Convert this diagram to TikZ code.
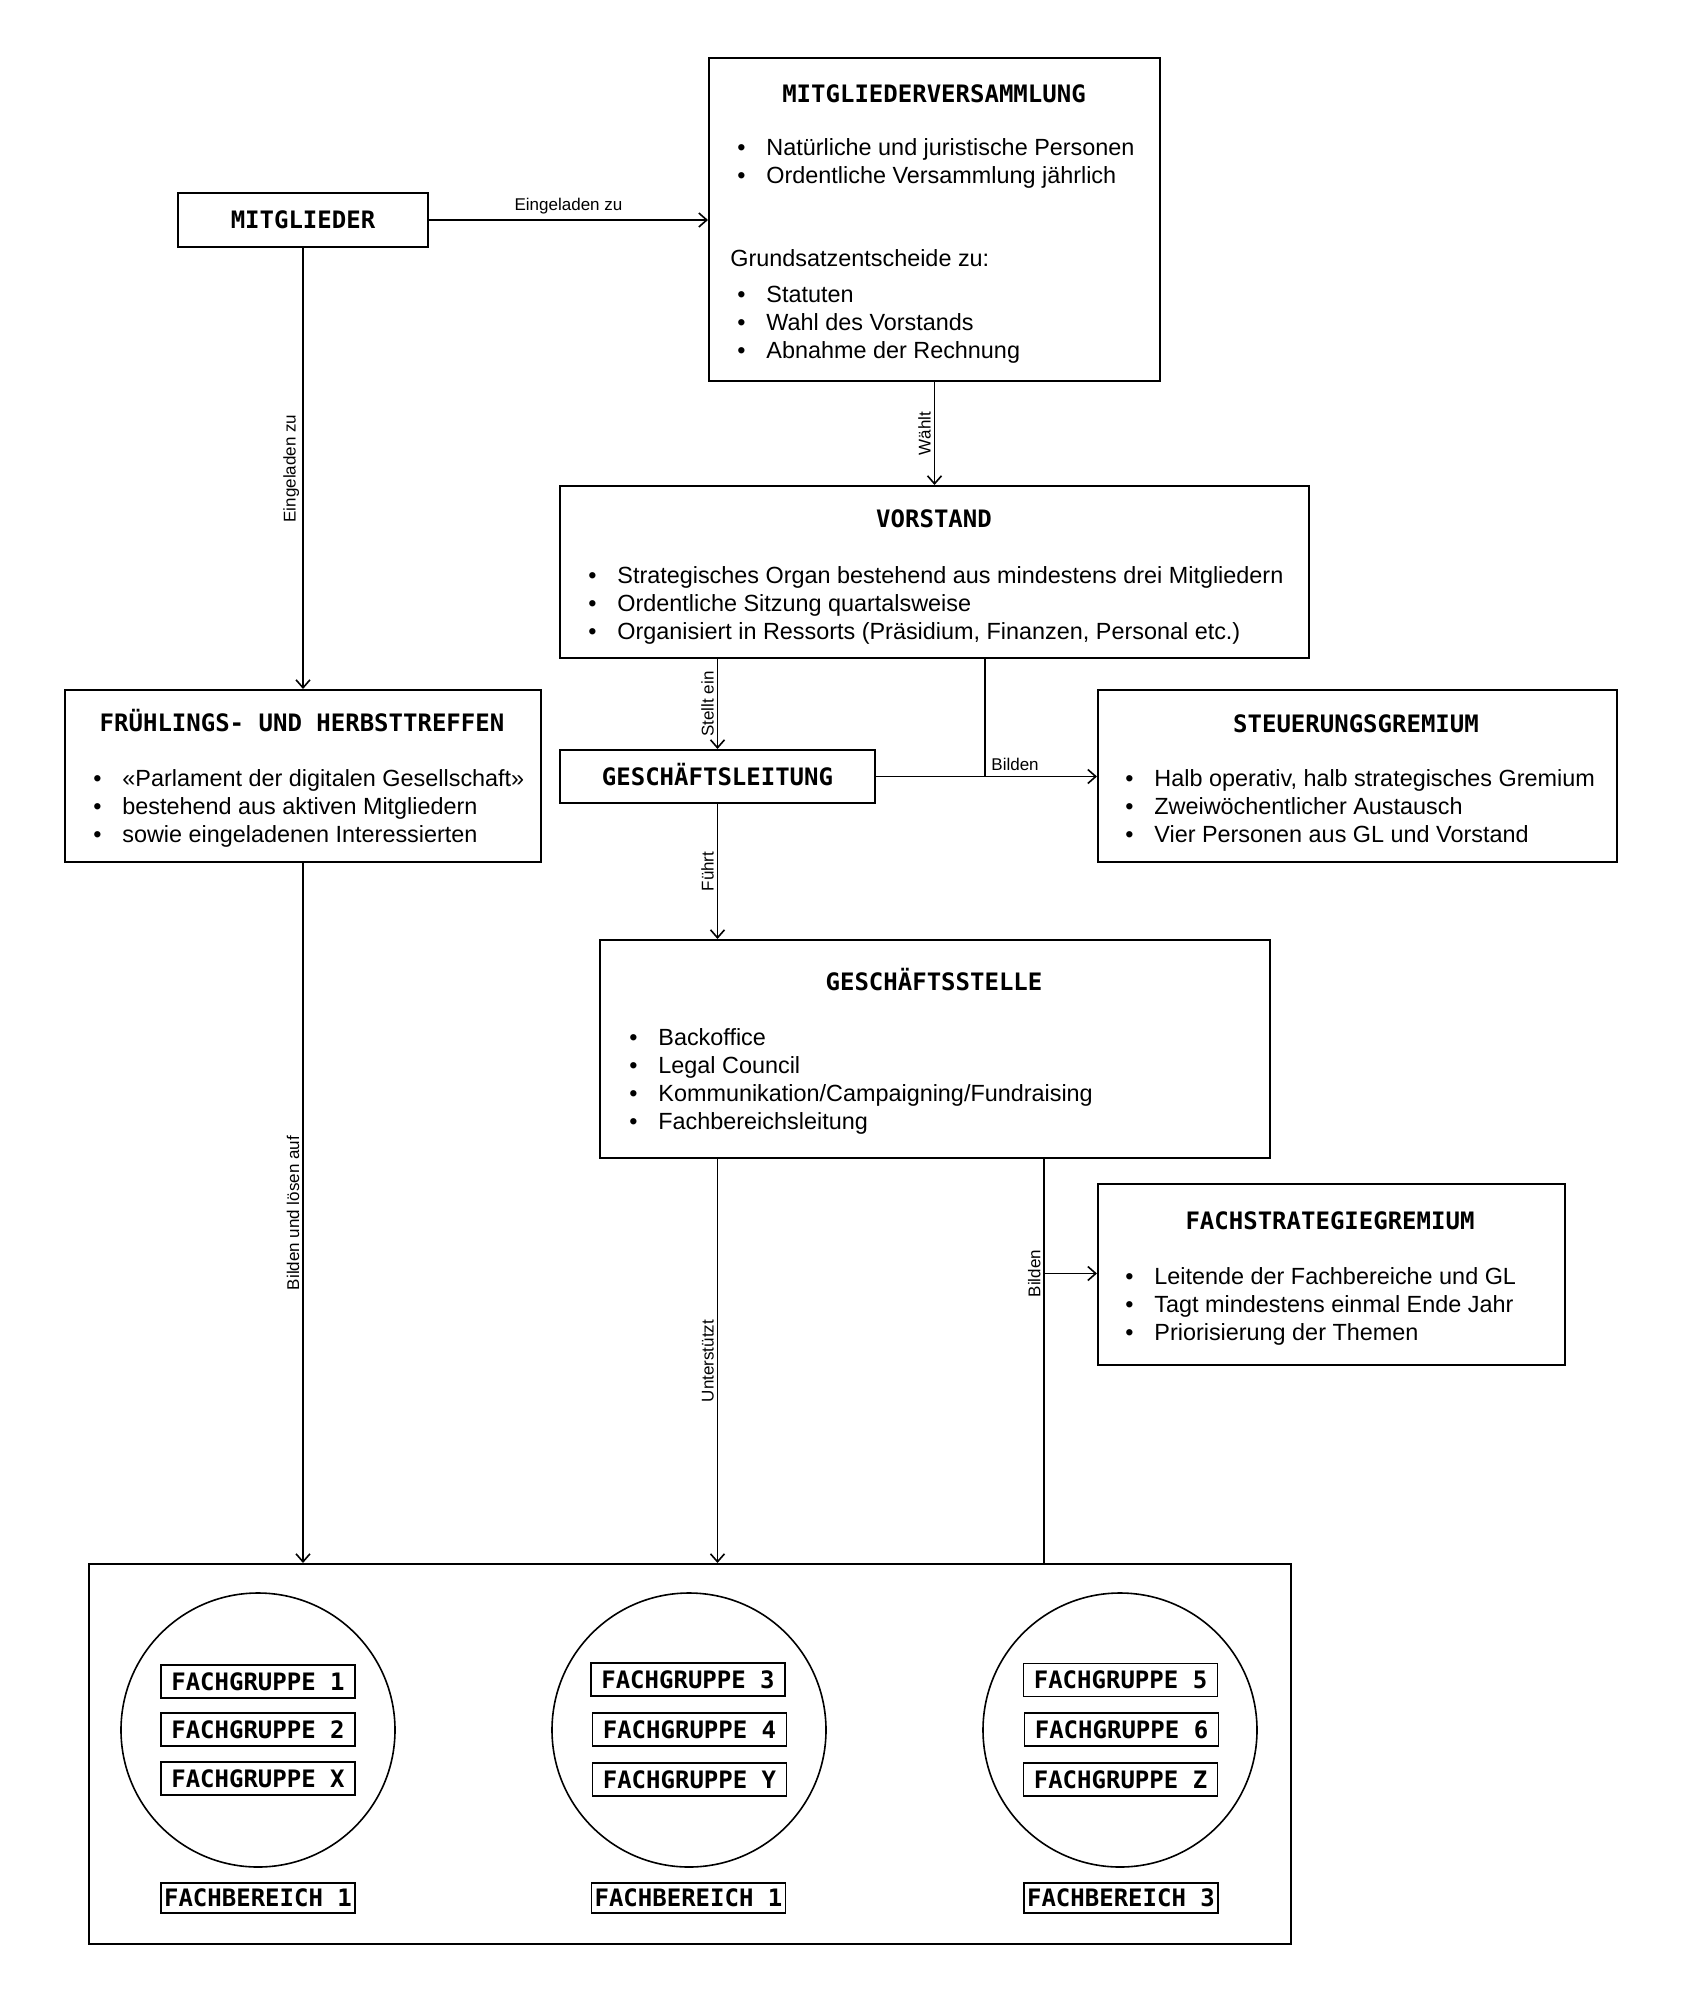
\documentclass[tikz,border=0pt]{standalone}
\usepackage{fontspec}
\setmainfont{Liberation Sans}
\newfontfamily\titlefont{DejaVu Sans Mono}
\usetikzlibrary{arrows.meta}
\newcommand\bl[1]{\makebox[14.5pt][l]{•}#1}
\newcommand\items[4]{%
  \foreach \t [count=\i from 0] in {#4} {%
    \node[body] (#1-\i) at (#2, {#3+8+28*\i}) {\bl{\t}};}}
\begin{document}
\begin{tikzpicture}[x=0.5pt,y=-0.5pt,
  obox/.style={draw, line width=1pt, anchor=north west, inner sep=0pt},
  ttl/.style={font=\titlefont\bfseries\fontsize{12pt}{14pt}\selectfont, inner sep=0pt, text height=8.8pt, text depth=0pt},
  body/.style={font=\fontsize{11.7pt}{14pt}\selectfont, inner sep=0pt, anchor=base west},
  lbl/.style={font=\fontsize{8.5pt}{10pt}\selectfont, inner sep=1.5pt},
  con/.style={line width=0.8pt},
  arr/.style={con, -{Straight Barb[length=4pt,width=7pt]}},
  fg/.style={draw, line width=0.9pt, minimum width=97pt, minimum height=16.5pt, inner sep=0pt,
    font=\titlefont\bfseries\fontsize{12pt}{14pt}\selectfont, text height=8.8pt, text depth=0pt},
  fb/.style={fg, minimum height=15pt},
  ring/.style={circle, draw, line width=0.8pt, minimum size=137pt, inner sep=0pt}
]
\useasboundingbox (0,0) rectangle (1680,2000);

% boxes
\node[obox, minimum width=125pt, minimum height=27pt] (mit) at (177,192) {};
\node[obox, minimum width=225.5pt, minimum height=161.5pt] (mv) at (708,57) {};
\node[obox, minimum width=374.5pt, minimum height=86pt] (vor) at (559,485) {};
\node[obox, minimum width=238pt, minimum height=86pt] (fht) at (64,689) {};
\node[obox, minimum width=157.5pt, minimum height=26.5pt] (gl) at (559,749) {};
\node[obox, minimum width=259.5pt, minimum height=86pt] (stg) at (1097,689) {};
\node[obox, minimum width=335pt, minimum height=109pt] (gs) at (599,939) {};
\node[obox, minimum width=233.5pt, minimum height=90.5pt] (fsg) at (1097,1183) {};
\node[obox, line width=1.2pt, minimum width=601pt, minimum height=190pt] (main) at (88,1563) {};

% titles
\node[ttl] (t-mit) at (mit.center) {MITGLIEDER};
\node[ttl] (t-mv) at (934,94) {MITGLIEDERVERSAMMLUNG};
\node[ttl] (t-vor) at (934,519) {VORSTAND};
\node[ttl] (t-fht) at (302,723) {FRÜHLINGS- UND HERBSTTREFFEN};
\node[ttl] (t-gl) at (gl.center) {GESCHÄFTSLEITUNG};
\node[ttl] (t-stg) at (1356,724) {STEUERUNGSGREMIUM};
\node[ttl] (t-gs) at (934,982) {GESCHÄFTSSTELLE};
\node[ttl] (t-fsg) at (1330,1221) {FACHSTRATEGIEGREMIUM};

% bullet texts
\items{mva}{737}{148}{{Natürliche und juristische Personen},{Ordentliche Versammlung jährlich}}
\node[body] (mvg) at (730,267) {Grundsatzentscheide zu:};
\items{mvb}{737}{295}{{Statuten},{Wahl des Vorstands},{Abnahme der Rechnung}}
\items{vo}{588}{575}{{Strategisches Organ bestehend aus mindestens drei Mitgliedern},{Ordentliche Sitzung quartalsweise},{Organisiert in Ressorts (Präsidium, Finanzen, Personal etc.)}}
\items{fh}{93}{778}{{«Parlament der digitalen Gesellschaft»},{bestehend aus aktiven Mitgliedern},{sowie eingeladenen Interessierten}}
\items{st}{1125}{778}{{Halb operativ, halb strategisches Gremium},{Zweiwöchentlicher Austausch},{Vier Personen aus GL und Vorstand}}
\items{gsi}{629}{1037}{{Backoffice},{Legal Council},{Kommunikation/Campaigning/Fundraising},{Fachbereichsleitung}}
\items{fs}{1125}{1276}{{Leitende der Fachbereiche und GL},{Tagt mindestens einmal Ende Jahr},{Priorisierung der Themen}}

% Fachbereiche
\node[ring] (c1) at (258,1730) {};
\node[ring] (c2) at (689,1730) {};
\node[ring] (c3) at (1120,1730) {};
\node[fg] (fg1) at (258,1681.5) {FACHGRUPPE 1};
\node[fg] (fg2) at (258,1729.5) {FACHGRUPPE 2};
\node[fg] (fgx) at (258,1778.5) {FACHGRUPPE X};
\node[fg] (fg3) at (688,1679.5) {FACHGRUPPE 3};
\node[fg] (fg4) at (689.5,1729.5) {FACHGRUPPE 4};
\node[fg] (fgy) at (689.5,1779.5) {FACHGRUPPE Y};
\node[fg] (fg5) at (1120.5,1680) {FACHGRUPPE 5};
\node[fg] (fg6) at (1121.5,1729.5) {FACHGRUPPE 6};
\node[fg] (fgz) at (1120.5,1779.5) {FACHGRUPPE Z};
\node[fb] (fb1) at (258,1898) {FACHBEREICH 1};
\node[fb] (fb2) at (688.5,1898) {FACHBEREICH 1};
\node[fb] (fb3) at (1121,1898) {FACHBEREICH 3};

% junctions
\coordinate (jv) at (985,775.5);
\coordinate (jg) at (1044,1273.5);

% connectors
\draw[arr] (mit.east) -- node[lbl, midway, above, yshift=1pt] {Eingeladen zu} (mit.east -| mv.west);
\draw[arr] (mit.south) -- node[lbl, midway, rotate=90, anchor=south] {Eingeladen zu} (fht.north);
\draw[arr] (mv.south) -- node[lbl, midway, rotate=90, anchor=south] {Wählt} (vor.north);
\draw[arr] (vor.south -| gl.north) -- node[lbl, midway, rotate=90, anchor=south] {Stellt ein} (gl.north);
\draw[con] (vor.south -| jv) -- (jv);
\draw[arr] (gl.east) -- (gl.east -| stg.west);
\node[lbl, anchor=south west, inner sep=2pt, xshift=1pt] (l-bilden1) at (jv) {Bilden};
\draw[arr] (gl.south) -- node[lbl, midway, rotate=90, anchor=south] {Führt} (gl.south |- gs.north);
\draw[arr] (fht.south) -- node[lbl, midway, rotate=90, anchor=south] {Bilden und lösen auf} (fht.south |- main.north);
\draw[arr] (gs.south -| gl.south) -- node[lbl, midway, rotate=90, anchor=south] {Unterstützt} (gl.south |- main.north);
\draw[con] (gs.south -| jg) -- (jg |- main.north);
\draw[arr] (jg) -- (jg -| fsg.west);
\node[lbl, rotate=90, anchor=south] (l-bilden2) at (jg) {Bilden};
\end{tikzpicture}
\end{document}
